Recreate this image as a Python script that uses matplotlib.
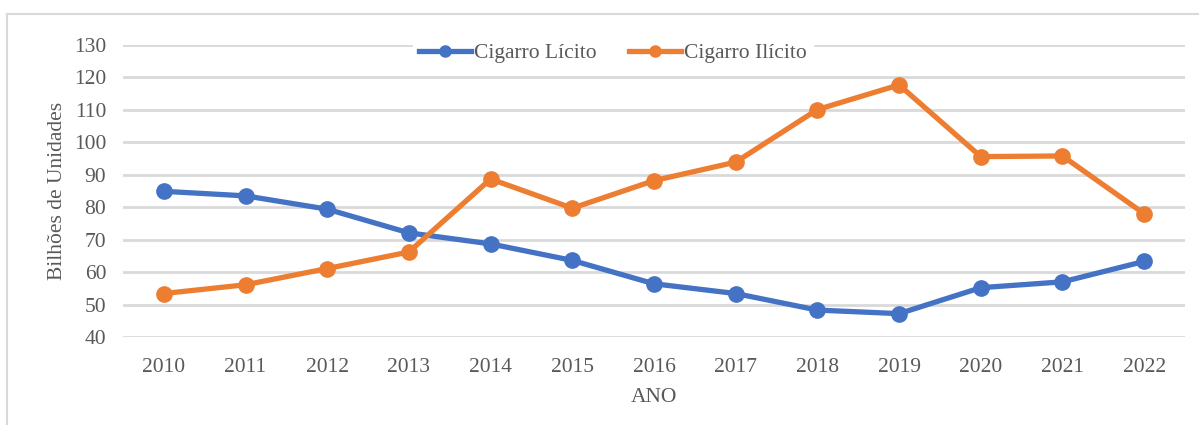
import matplotlib
matplotlib.use("Agg")
import matplotlib.pyplot as plt
from matplotlib.lines import Line2D

# ------------------------------- data -------------------------------
anos = ["2010", "2011", "2012", "2013", "2014", "2015", "2016",
        "2017", "2018", "2019", "2020", "2021", "2022"]
licito = [84.9, 83.5, 79.4, 72.1, 68.7, 63.6, 56.4, 53.4, 48.3, 47.2, 55.2, 57.0, 63.3]
ilicito = [53.4, 56.1, 61.1, 66.2, 88.7, 79.7, 88.2, 93.9, 110.1, 117.7, 95.6, 95.8, 78.0]

serie_nomes = ["Cigarro Lícito", "Cigarro Ilícito"]
yticks = [40, 50, 60, 70, 80, 90, 100, 110, 120, 130]

azul = "#4472C4"
laranja = "#ED7D31"
cinza_txt = "#595959"
cinza_grid = "#D9D9D9"

plt.rcParams['font.family'] = ['Liberation Serif', 'DejaVu Serif']

W, H = 1199, 425
fig = plt.figure(figsize=(W / 100, H / 100), dpi=100)

# chart border (top + left only visible in the crop)
fig.add_artist(Line2D([7 / W, 1], [1 - 14 / H, 1 - 14 / H], color=cinza_grid, lw=1.5))
fig.add_artist(Line2D([7 / W, 7 / W], [0, 1 - 14 / H], color=cinza_grid, lw=1.5))

# ------------------------------- main axes -------------------------------
left, right = 123 / W, 1185 / W
top, bottom = 1 - 45 / H, 1 - 337 / H
ax = fig.add_axes([left, bottom, right - left, top - bottom])

x = list(range(len(anos)))
ax.plot(x, licito, color=azul, lw=3.8, marker="o", ms=11, label=serie_nomes[0], zorder=3)
ax.plot(x, ilicito, color=laranja, lw=3.8, marker="o", ms=11, label=serie_nomes[1], zorder=3)

ax.set_xlim(-0.5, len(anos) - 0.5)
ax.set_ylim(40, 130)
ax.set_yticks(yticks)
ax.set_xticks(x)
ax.set_xticklabels(anos)

ax.grid(axis="y", color=cinza_grid, lw=2)
ax.set_axisbelow(True)
for s in ax.spines.values():
    s.set_visible(False)
ax.tick_params(axis="both", length=0, labelsize=15.5, colors=cinza_txt)
ax.tick_params(axis="x", pad=15)
ax.tick_params(axis="y", pad=12)

ax.set_xlabel("ANO", fontsize=15.5, color=cinza_txt, labelpad=8)
ax.set_ylabel("Bilhões de Unidades", fontsize=15.5, color=cinza_txt, labelpad=5)

leg = ax.legend(loc="center", bbox_to_anchor=(613 / W, 1 - 53 / H),
                bbox_transform=fig.transFigure, ncol=2, frameon=True,
                fontsize=15.5, handlelength=2.4, handletextpad=0.15,
                columnspacing=1.5, borderpad=0.3, fancybox=False)
leg.get_frame().set_edgecolor("white")
leg.get_frame().set_facecolor("white")
leg.get_frame().set_alpha(1)
for t in leg.get_texts():
    t.set_color(cinza_txt)
for h in leg.legend_handles:
    h.set_markersize(8)

fig.savefig("out.png", dpi=100)
